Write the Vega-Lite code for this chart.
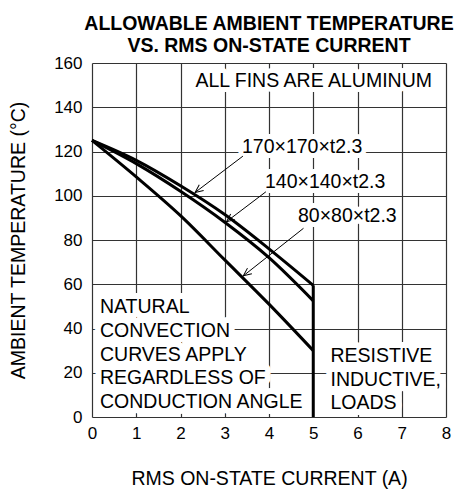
{
  "$schema": "https://vega.github.io/schema/vega-lite/v6.json",
  "width": 354,
  "height": 354,
  "autosize": {"type": "none"},
  "padding": {"left": 92, "top": 63, "right": 17, "bottom": 79},
  "background": "white",
  "title": {
    "text": ["ALLOWABLE AMBIENT TEMPERATURE", "VS. RMS ON-STATE CURRENT"],
    "font": "Liberation Sans",
    "fontSize": 19.5,
    "fontWeight": "bold",
    "lineHeight": 22,
    "anchor": "middle",
    "offset": -2,
    "color": "black"
  },
  "config": {
    "view": {"stroke": null},
    "font": "Liberation Sans",
    "axis": {
      "domain": false,
      "ticks": false,
      "labelFont": "Liberation Sans",
      "labelFontSize": 17,
      "labelColor": "black",
      "titleFont": "Liberation Sans",
      "titleFontSize": 19.5,
      "titleFontWeight": "normal",
      "titleColor": "black",
      "gridColor": "#333",
      "gridWidth": 1.2,
      "gridOpacity": 1
    }
  },
  "datasets": {
    "curves": [
      {"series": "170", "x": 0, "y": 125}, {"series": "170", "x": 1, "y": 116}, {"series": "170", "x": 2, "y": 104.5}, {"series": "170", "x": 3, "y": 91.5}, {"series": "170", "x": 4, "y": 76}, {"series": "170", "x": 5, "y": 59.5},
      {"series": "140", "x": 0, "y": 125}, {"series": "140", "x": 1, "y": 114.5}, {"series": "140", "x": 2, "y": 102}, {"series": "140", "x": 3, "y": 88}, {"series": "140", "x": 4, "y": 72}, {"series": "140", "x": 5, "y": 52.5},
      {"series": "80", "x": 0, "y": 125}, {"series": "80", "x": 1, "y": 108.5}, {"series": "80", "x": 2, "y": 91}, {"series": "80", "x": 3, "y": 71}, {"series": "80", "x": 4, "y": 51}, {"series": "80", "x": 5, "y": 30}
    ],
    "limit": [{"x": 5, "y": 0, "y2": 59.5}],
    "arrows": [
      {"x": 3.41, "y": 117.9, "x2": 2.33, "y2": 101.5},
      {"x": 3.93, "y": 101.8, "x2": 3.04, "y2": 88.3},
      {"x": 4.78, "y": 85.3, "x2": 3.42, "y2": 63.8}
    ],
    "notes": [
      {"text": "ALL FINS ARE ALUMINUM", "x": 5.01, "y": 152},
      {"text": "170×170×t2.3", "x": 4.75, "y": 122.2},
      {"text": "140×140×t2.3", "x": 5.27, "y": 106.4},
      {"text": "80×80×t2.3", "x": 5.77, "y": 91}
    ],
    "blocks": [
      {"text": "NATURAL\nCONVECTION\nCURVES APPLY\nREGARDLESS OF\nCONDUCTION ANGLE", "x": 0.18, "y": 49.6},
      {"text": "RESISTIVE\nINDUCTIVE,\nLOADS", "x": 5.39, "y": 27.6}
    ]
  },
  "encoding": {
    "x": {
      "field": "x", "type": "quantitative",
      "scale": {"domain": [0, 8], "nice": false},
      "axis": {"values": [0, 1, 2, 3, 4, 5, 6, 7, 8], "title": "RMS ON-STATE CURRENT  (A)", "labelPadding": 8, "titlePadding": 28, "labelFlush": false}
    },
    "y": {
      "field": "y", "type": "quantitative",
      "scale": {"domain": [0, 160], "nice": false},
      "axis": {"values": [0, 20, 40, 60, 80, 100, 120, 140, 160], "title": "AMBIENT TEMPERATURE  (°C)", "labelPadding": 10, "titlePadding": 25, "labelFlush": false}
    }
  },
  "layer": [
    {
      "data": {"name": "notes"},
      "mark": {"type": "text", "font": "Liberation Sans", "fontSize": 19.5, "align": "center", "baseline": "middle", "fill": "white", "stroke": "white", "strokeWidth": 10, "strokeJoin": "round"},
      "encoding": {"text": {"field": "text"}}
    },
    {
      "data": {"name": "blocks"},
      "mark": {"type": "text", "font": "Liberation Sans", "fontSize": 19.5, "align": "left", "baseline": "middle", "lineBreak": "\n", "lineHeight": 23.7, "fill": "white", "stroke": "white", "strokeWidth": 12, "strokeJoin": "round"},
      "encoding": {"text": {"field": "text"}}
    },
    {
      "data": {"name": "curves"},
      "mark": {"type": "line", "color": "black", "strokeWidth": 3, "interpolate": "monotone"},
      "encoding": {"detail": {"field": "series"}}
    },
    {
      "data": {"name": "limit"},
      "mark": {"type": "rule", "color": "black", "strokeWidth": 3},
      "encoding": {"y2": {"field": "y2"}}
    },
    {
      "data": {"name": "arrows"},
      "mark": {"type": "rule", "color": "black", "strokeWidth": 1},
      "encoding": {"x2": {"field": "x2"}, "y2": {"field": "y2"}}
    },
    {
      "data": {"name": "arrows"},
      "mark": {"type": "point", "shape": "M-1,-0.45L0,0L-1,0.45", "filled": false, "color": "black", "strokeWidth": 1, "size": 256, "angle": 142.5, "opacity": 1},
      "encoding": {"x": {"field": "x2", "type": "quantitative"}, "y": {"field": "y2", "type": "quantitative"}}
    },
    {
      "data": {"name": "notes"},
      "mark": {"type": "text", "font": "Liberation Sans", "fontSize": 19.5, "align": "center", "baseline": "middle", "color": "black"},
      "encoding": {"text": {"field": "text"}}
    },
    {
      "data": {"name": "blocks"},
      "mark": {"type": "text", "font": "Liberation Sans", "fontSize": 19.5, "align": "left", "baseline": "middle", "lineBreak": "\n", "lineHeight": 23.7, "color": "black"},
      "encoding": {"text": {"field": "text"}}
    },
    {
      "data": {"values": [{}]},
      "mark": {"type": "rect", "fill": null, "stroke": "black", "strokeWidth": 3},
      "encoding": {
        "x": {"datum": 0, "type": "quantitative"},
        "x2": {"datum": 8},
        "y": {"datum": 0, "type": "quantitative"},
        "y2": {"datum": 160}
      }
    }
  ]
}
